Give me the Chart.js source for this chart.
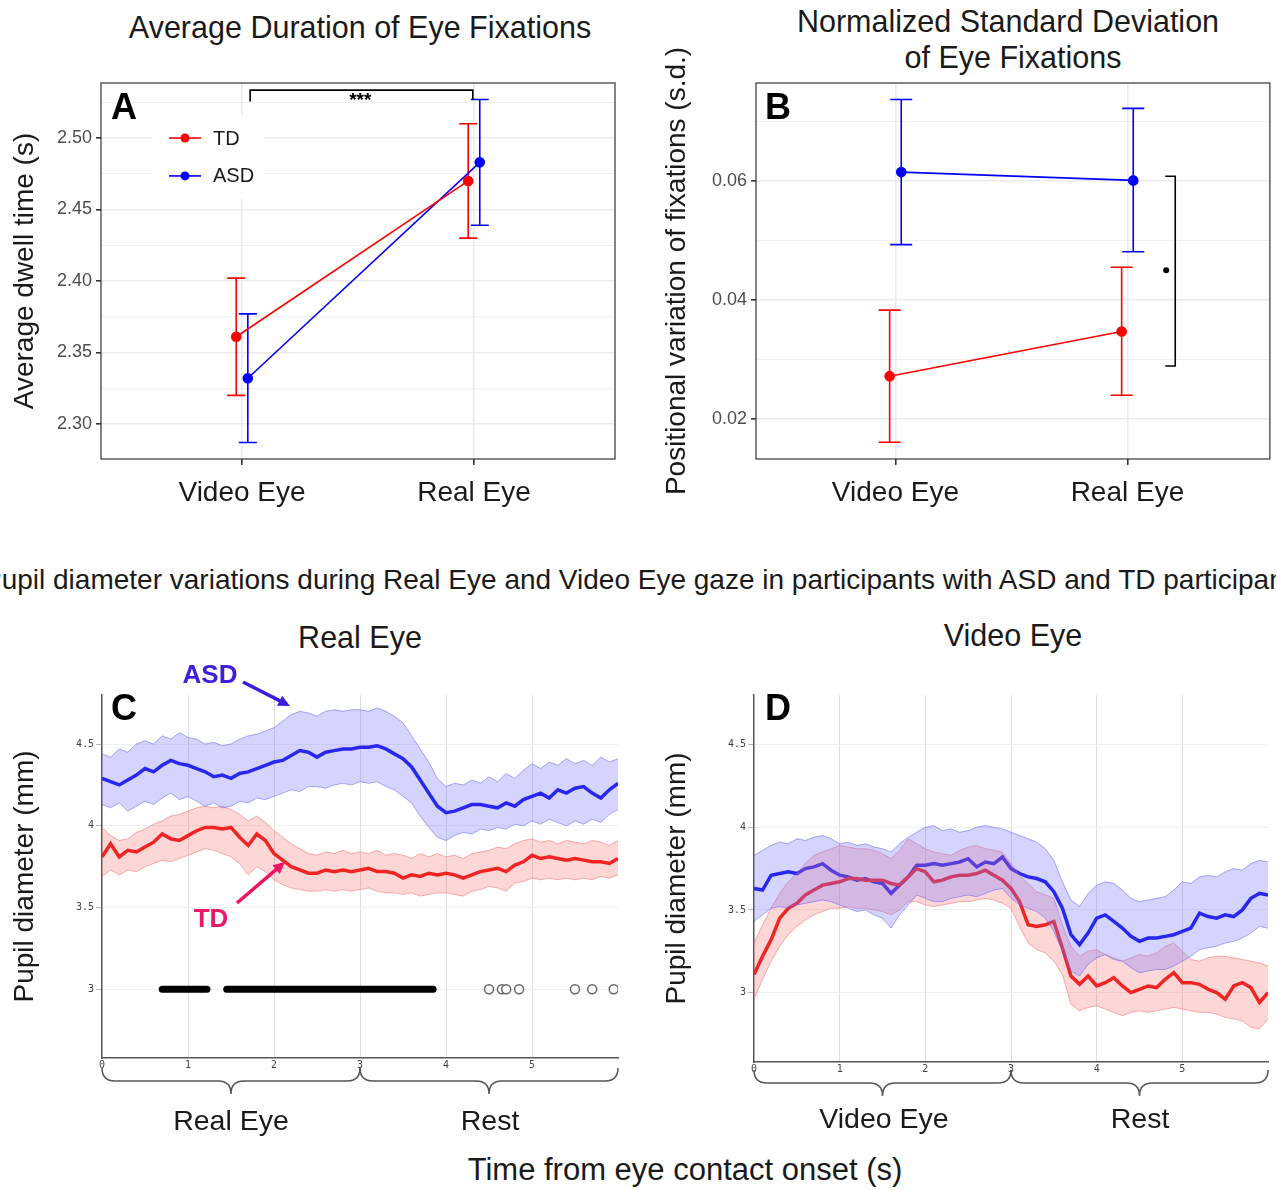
<!DOCTYPE html>
<html>
<head>
<meta charset="utf-8">
<script src="https://cdn.jsdelivr.net/npm/chart.js@4.4.0/dist/chart.umd.min.js"></script>
<style>
body { margin:0; background:#fff; width:1276px; height:1190px; overflow:hidden; position:relative;
       font-family:"Liberation Sans", Arial, sans-serif; }
canvas { position:absolute; }
.t { position:absolute; white-space:nowrap; color:#1a1a1a; transform:translate(-50%,-50%); font-size:30.5px; }
.lab { position:absolute; font-weight:bold; font-size:36px; color:#000; transform:translate(-50%,-50%); }
</style>
</head>
<body>

<div class="t" style="left:360px;top:27px">Average Duration of Eye Fixations</div>
<div class="t" style="left:1008px;top:21px">Normalized Standard Deviation</div>
<div class="t" style="left:1013px;top:57px">of Eye Fixations</div>
<div class="t" style="left:-17px;top:580px;transform:translate(0,-50%);font-size:28px">Pupil diameter variations during Real Eye and Video Eye gaze in participants with ASD and TD participants</div>
<div class="t" style="left:360px;top:637px">Real Eye</div>
<div class="t" style="left:1013px;top:635px">Video Eye</div>

<canvas id="chartA" width="640" height="530" style="left:0;top:0"></canvas>
<canvas id="chartB" width="636" height="530" style="left:640px;top:0"></canvas>
<canvas id="chartC" width="640" height="510" style="left:0;top:600px"></canvas>
<canvas id="chartD" width="636" height="510" style="left:640px;top:600px"></canvas>

<div class="lab" style="left:124px;top:107px">A</div>
<div class="lab" style="left:778px;top:107px">B</div>
<div class="lab" style="left:124px;top:708px">C</div>
<div class="lab" style="left:778px;top:708px">D</div>

<div class="t" style="left:210px;top:674px;font-weight:bold;font-size:26px;color:#3b1ee0">ASD</div>
<div class="t" style="left:211px;top:918px;font-weight:bold;font-size:26px;color:#e8186a">TD</div>

<div class="t" style="left:231px;top:1120px;font-size:28.5px">Real Eye</div>
<div class="t" style="left:490px;top:1120px;font-size:28.5px">Rest</div>
<div class="t" style="left:884px;top:1118px;font-size:28.5px">Video Eye</div>
<div class="t" style="left:1140px;top:1118px;font-size:28.5px">Rest</div>
<div class="t" style="left:685px;top:1170px;font-size:31px">Time from eye contact onset (s)</div>

<script>
// ---- data: panels A and B (order: Video Eye, Real Eye) ----
const groups = ['Video Eye', 'Real Eye'];

const dwellTD    = [2.361, 2.470];
const dwellTDlo  = [2.320, 2.430];
const dwellTDhi  = [2.402, 2.510];
const dwellASD   = [2.332, 2.483];
const dwellASDlo = [2.287, 2.439];
const dwellASDhi = [2.377, 2.527];

const sdTD    = [0.0272, 0.0347];
const sdTDlo  = [0.0161, 0.0240];
const sdTDhi  = [0.0383, 0.0455];
const sdASD   = [0.0615, 0.0601];
const sdASDlo = [0.0493, 0.0481];
const sdASDhi = [0.0737, 0.0722];

const ticksA = [2.30, 2.35, 2.40, 2.45, 2.50];
const minorA = [2.325, 2.375, 2.425, 2.475, 2.525];
const ticksB = [0.02, 0.04, 0.06];
const minorB = [0.03, 0.05, 0.07];

// ---- data: panels C and D (pupil diameter, mm) ----
const time = [0,0.1,0.2,0.3,0.4,0.5,0.6,0.7,0.8,0.9,1,1.1,1.2,1.3,1.4,1.5,1.6,1.7,1.8,1.9,2,2.1,2.2,2.3,2.4,2.5,2.6,2.7,2.8,2.9,
  3,3.1,3.2,3.3,3.4,3.5,3.6,3.7,3.8,3.9,4,4.1,4.2,4.3,4.4,4.5,4.6,4.7,4.8,4.9,5,5.1,5.2,5.3,5.4,5.5,5.6,5.7,5.8,5.9,6];
const pupilTicks = [3, 3.5, 4, 4.5];
const timeTicks = [0, 1, 2, 3, 4, 5];

// C: Real Eye
const realASD   = [4.29,4.27,4.25,4.28,4.31,4.35,4.33,4.37,4.40,4.38,4.37,4.35,4.33,4.30,4.31,4.29,4.32,4.33,4.35,4.37,4.39,4.40,4.43,4.46,4.45,4.42,4.45,4.46,4.47,4.47,
  4.48,4.48,4.49,4.47,4.44,4.41,4.36,4.28,4.20,4.12,4.08,4.09,4.11,4.13,4.13,4.12,4.11,4.14,4.12,4.16,4.18,4.20,4.17,4.22,4.20,4.23,4.24,4.20,4.17,4.22,4.26];
const realASDhi = [4.44,4.42,4.47,4.45,4.50,4.52,4.50,4.55,4.53,4.57,4.54,4.53,4.50,4.51,4.49,4.50,4.53,4.55,4.56,4.58,4.60,4.64,4.68,4.70,4.69,4.67,4.70,4.71,4.70,4.71,
  4.71,4.70,4.72,4.70,4.67,4.63,4.55,4.47,4.39,4.29,4.24,4.26,4.25,4.28,4.26,4.30,4.27,4.32,4.29,4.34,4.38,4.35,4.39,4.37,4.41,4.38,4.40,4.37,4.42,4.39,4.41];
const realASDlo = [4.13,4.11,4.14,4.09,4.12,4.15,4.13,4.17,4.20,4.16,4.18,4.15,4.12,4.14,4.11,4.12,4.15,4.14,4.17,4.16,4.18,4.20,4.22,4.21,4.24,4.24,4.23,4.25,4.26,4.25,
  4.27,4.26,4.27,4.24,4.22,4.18,4.14,4.06,3.99,3.93,3.91,3.94,3.96,3.95,3.98,3.97,3.99,3.98,4.01,4.00,4.03,4.01,4.04,4.02,4.00,4.03,4.01,4.04,4.02,4.07,4.10];
const realTD    = [3.81,3.89,3.81,3.85,3.84,3.87,3.90,3.95,3.92,3.91,3.94,3.97,3.99,3.99,3.98,3.99,3.93,3.88,3.95,3.91,3.83,3.79,3.75,3.73,3.71,3.71,3.73,3.72,3.73,3.72,
  3.73,3.74,3.72,3.72,3.71,3.68,3.70,3.69,3.71,3.70,3.71,3.70,3.68,3.70,3.72,3.73,3.74,3.72,3.76,3.78,3.82,3.80,3.81,3.80,3.79,3.80,3.79,3.78,3.78,3.77,3.80];
const realTDhi  = [3.99,3.94,3.91,3.92,3.96,3.98,4.01,4.03,4.06,4.07,4.09,4.11,4.12,4.11,4.12,4.10,4.07,4.03,4.06,4.02,3.97,3.93,3.89,3.86,3.83,3.82,3.84,3.83,3.85,3.83,
  3.84,3.83,3.85,3.82,3.83,3.82,3.80,3.83,3.81,3.83,3.81,3.82,3.80,3.83,3.84,3.85,3.87,3.86,3.89,3.91,3.92,3.90,3.91,3.89,3.91,3.90,3.89,3.91,3.90,3.88,3.91];
const realTDlo  = [3.69,3.73,3.70,3.73,3.72,3.75,3.77,3.79,3.78,3.80,3.82,3.84,3.86,3.85,3.83,3.81,3.77,3.70,3.75,3.72,3.67,3.64,3.62,3.61,3.60,3.60,3.61,3.60,3.61,3.60,
  3.61,3.62,3.60,3.59,3.59,3.58,3.59,3.57,3.58,3.59,3.59,3.58,3.57,3.60,3.61,3.63,3.62,3.60,3.65,3.66,3.68,3.67,3.68,3.67,3.68,3.67,3.68,3.67,3.69,3.68,3.70];

// significance marks along y = 3 in panel C
const sigRuns = [[0.70, 1.22], [1.45, 3.85]];
const sigDots = [4.50, 4.65, 4.70, 4.85, 5.50, 5.70, 5.95];

// D: Video Eye
const videoASD   = [3.63,3.62,3.71,3.72,3.73,3.72,3.75,3.76,3.78,3.74,3.71,3.70,3.68,3.69,3.67,3.66,3.60,3.65,3.70,3.77,3.77,3.78,3.77,3.78,3.79,3.81,3.76,3.79,3.78,3.82,
  3.75,3.72,3.70,3.69,3.67,3.61,3.51,3.35,3.29,3.36,3.45,3.47,3.43,3.39,3.34,3.31,3.33,3.33,3.34,3.35,3.37,3.39,3.48,3.46,3.45,3.47,3.46,3.50,3.57,3.60,3.59];
const videoASDhi = [3.83,3.86,3.89,3.91,3.90,3.93,3.92,3.94,3.95,3.93,3.90,3.91,3.89,3.90,3.88,3.87,3.85,3.90,3.94,3.97,4.00,4.01,3.98,3.99,3.97,3.98,4.00,4.01,4.00,3.99,
  3.97,3.95,3.93,3.91,3.87,3.80,3.67,3.56,3.52,3.60,3.65,3.67,3.66,3.62,3.57,3.55,3.56,3.57,3.58,3.62,3.67,3.66,3.70,3.71,3.70,3.73,3.75,3.74,3.78,3.80,3.79];
const videoASDlo = [3.43,3.47,3.51,3.52,3.51,3.53,3.54,3.55,3.56,3.55,3.53,3.51,3.49,3.50,3.47,3.45,3.39,3.47,3.53,3.59,3.57,3.55,3.55,3.57,3.58,3.59,3.58,3.60,3.62,3.63,
  3.57,3.53,3.51,3.49,3.45,3.37,3.25,3.13,3.10,3.17,3.21,3.23,3.20,3.19,3.15,3.12,3.13,3.14,3.14,3.16,3.19,3.22,3.26,3.27,3.28,3.30,3.31,3.33,3.36,3.40,3.39];
const videoTD    = [3.11,3.22,3.32,3.45,3.51,3.54,3.59,3.62,3.65,3.66,3.67,3.69,3.69,3.68,3.68,3.68,3.66,3.65,3.70,3.75,3.73,3.67,3.68,3.70,3.71,3.71,3.72,3.74,3.71,3.68,
  3.63,3.55,3.41,3.40,3.41,3.43,3.27,3.10,3.05,3.10,3.04,3.06,3.09,3.04,3.00,3.02,3.04,3.03,3.08,3.12,3.06,3.06,3.05,3.02,3.00,2.96,3.04,3.06,3.03,2.94,3.00];
const videoTDhi  = [3.30,3.41,3.51,3.60,3.67,3.72,3.78,3.83,3.85,3.87,3.89,3.88,3.87,3.87,3.86,3.84,3.81,3.86,3.93,3.90,3.87,3.85,3.84,3.83,3.86,3.88,3.89,3.87,3.86,3.85,
  3.78,3.71,3.66,3.61,3.59,3.57,3.41,3.28,3.22,3.25,3.26,3.23,3.21,3.19,3.21,3.23,3.22,3.24,3.28,3.30,3.25,3.20,3.19,3.21,3.22,3.22,3.21,3.20,3.19,3.18,3.16];
const videoTDlo  = [2.96,3.08,3.19,3.28,3.35,3.40,3.44,3.47,3.49,3.51,3.51,3.52,3.51,3.51,3.50,3.49,3.47,3.50,3.55,3.55,3.53,3.52,3.53,3.54,3.55,3.55,3.56,3.57,3.56,3.54,
  3.51,3.40,3.30,3.26,3.24,3.19,3.11,2.93,2.89,2.91,2.92,2.90,2.88,2.86,2.88,2.89,2.88,2.89,2.90,2.91,2.90,2.89,2.88,2.88,2.87,2.85,2.84,2.83,2.79,2.78,2.84];

const FONT = '"Liberation Sans", Arial, sans-serif';
const RED = '#ff0000', BLUE = '#0000ff';

function pts(xs, ys, dx) {
    return ys.map((y, i) => ({x: xs[i] + (dx || 0), y: y}));
}

// ******panel A and B: means with error bars******
function meanChart(id, cfg) {
    const major = cfg.major, minor = cfg.minor;
    const dodge = 0.025;
    const bars = [
        {m: cfg.td, lo: cfg.tdLo, hi: cfg.tdHi, dx: -dodge, color: RED},
        {m: cfg.asd, lo: cfg.asdLo, hi: cfg.asdHi, dx: dodge, color: BLUE}
    ];
    const deco = {
        id: 'deco' + id,
        beforeDatasetsDraw(c) {
            const g = c.ctx, xs = c.scales.x, ys = c.scales.y;
            g.save();
            g.lineWidth = 1.6;
            bars.forEach(b => {
                g.strokeStyle = b.color;
                b.m.forEach((v, i) => {
                    const px = xs.getPixelForValue(i + b.dx);
                    const top = ys.getPixelForValue(b.hi[i]), bot = ys.getPixelForValue(b.lo[i]);
                    g.beginPath();
                    g.moveTo(px, top); g.lineTo(px, bot);
                    g.moveTo(px - cfg.cap, top); g.lineTo(px + cfg.cap, top);
                    g.moveTo(px - cfg.cap, bot); g.lineTo(px + cfg.cap, bot);
                    g.stroke();
                });
            });
            g.restore();
        },
        afterDraw(c) {
            const g = c.ctx, a = c.chartArea;
            g.save();
            g.strokeStyle = '#333'; g.lineWidth = 1.2;
            g.strokeRect(a.left, a.top, a.right - a.left, a.bottom - a.top);
            if (cfg.extra) cfg.extra(c, g);
            g.restore();
        }
    };
    return new Chart(document.getElementById(id), {
        type: 'line',
        data: {
            datasets: [
                {label: 'TD', data: pts([0, 1], cfg.td, -dodge), borderColor: RED, backgroundColor: RED,
                 borderWidth: 1.6, pointRadius: 4.5, pointHoverRadius: 4.5},
                {label: 'ASD', data: pts([0, 1], cfg.asd, dodge), borderColor: BLUE, backgroundColor: BLUE,
                 borderWidth: 1.6, pointRadius: 4.5, pointHoverRadius: 4.5}
            ]
        },
        options: {
            responsive: false, animation: false,
            layout: {padding: {top: 83, right: cfg.padRight, left: 0, bottom: 0}},
            plugins: {legend: {display: false}, tooltip: {enabled: false}},
            scales: {
                x: {
                    type: 'linear', min: cfg.xMin, max: cfg.xMax,
                    afterBuildTicks: s => { s.ticks = [{value: 0}, {value: 1}]; },
                    afterFit: s => { s.height = 71; },
                    ticks: {callback: v => groups[v], font: {family: FONT, size: 28}, color: '#1a1a1a', padding: 11},
                    grid: {color: '#ebebeb', lineWidth: 1.6, tickColor: '#333', tickLength: 6},
                    border: {display: false}
                },
                y: {
                    min: cfg.yMin, max: cfg.yMax,
                    afterBuildTicks: s => { s.ticks = major.concat(minor).sort((p, q) => p - q).map(v => ({value: v})); },
                    afterFit: s => { s.width = cfg.yWidth; },
                    ticks: {callback: v => major.includes(v) ? v.toFixed(2) : '',
                            font: {family: '"Liberation Sans Narrow", ' + FONT, size: 18}, color: '#4d4d4d', padding: 4},
                    grid: {color: '#ebebeb', lineWidth: c => major.includes(c.tick.value) ? 1.6 : 0.8,
                           tickColor: c => major.includes(c.tick.value) ? '#333' : 'rgba(0,0,0,0)', tickLength: 5},
                    border: {display: false},
                    title: {display: true, text: cfg.yTitle, font: {family: FONT, size: 28}, color: '#1a1a1a',
                            padding: {top: cfg.titlePad, bottom: 0}}
                }
            }
        },
        plugins: [deco]
    });
}

meanChart('chartA', {
    td: dwellTD, tdLo: dwellTDlo, tdHi: dwellTDhi, asd: dwellASD, asdLo: dwellASDlo, asdHi: dwellASDhi,
    major: ticksA, minor: minorA, yMin: 2.2755, yMax: 2.5385, xMin: -0.608, xMax: 1.608,
    yWidth: 101, padRight: 25, titlePad: 8.2, cap: 9, yTitle: 'Average dwell time (s)',
    extra: (c, g) => {
        const xs = c.scales.x, ys = c.scales.y;
        // significance bracket
        const x1 = xs.getPixelForValue(0.035), x2 = xs.getPixelForValue(0.995);
        const yt = ys.getPixelForValue(2.5335), yb1 = ys.getPixelForValue(2.5255), yb2 = ys.getPixelForValue(2.527);
        g.strokeStyle = '#000'; g.lineWidth = 1.6;
        g.beginPath(); g.moveTo(x1, yb1); g.lineTo(x1, yt); g.lineTo(x2, yt); g.lineTo(x2, yb2); g.stroke();
        g.fillStyle = '#000'; g.font = 'bold 19px ' + FONT; g.textAlign = 'center'; g.textBaseline = 'middle';
        g.fillText('***', xs.getPixelForValue(0.51), ys.getPixelForValue(2.5262));
        // legend
        const items = [['TD', RED, 2.500], ['ASD', BLUE, 2.4735]];
        g.fillStyle = '#fff';
        g.fillRect(152, ys.getPixelForValue(2.516), 112, ys.getPixelForValue(2.458) - ys.getPixelForValue(2.516));
        items.forEach(it => {
            const y = ys.getPixelForValue(it[2]);
            g.strokeStyle = it[1]; g.lineWidth = 1.6;
            g.beginPath(); g.moveTo(169, y); g.lineTo(201, y); g.stroke();
            g.fillStyle = it[1]; g.beginPath(); g.arc(185, y, 4.5, 0, Math.PI * 2); g.fill();
            g.fillStyle = '#1a1a1a'; g.font = '20px ' + FONT; g.textAlign = 'left';
            g.fillText(it[0], 213, y + 1);
        });
    }
});

meanChart('chartB', {
    td: sdTD, tdLo: sdTDlo, tdHi: sdTDhi, asd: sdASD, asdLo: sdASDlo, asdHi: sdASDhi,
    major: ticksB, minor: minorB, yMin: 0.01328, yMax: 0.07647, xMin: -0.601, xMax: 1.614,
    yWidth: 116, padRight: 4, titlePad: 20.2, cap: 11, yTitle: 'Positional variation of fixations (s.d.)',
    extra: (c, g) => {
        const xs = c.scales.x, ys = c.scales.y;
        const xv = xs.getPixelForValue(1.206), xt = xs.getPixelForValue(1.163);
        const y1 = ys.getPixelForValue(0.0608), y2 = ys.getPixelForValue(0.0289);
        g.strokeStyle = '#000'; g.lineWidth = 1.6;
        g.beginPath(); g.moveTo(xt, y1); g.lineTo(xv, y1); g.lineTo(xv, y2); g.lineTo(xt, y2); g.stroke();
        g.fillStyle = '#000'; g.beginPath();
        g.arc(xs.getPixelForValue(1.167), ys.getPixelForValue(0.0450), 3, 0, Math.PI * 2); g.fill();
    }
});

// ******panel C and D: pupil traces with bands******
function brace(g, x1, x2, y, h) {
    const xm = (x1 + x2) / 2, r = h / 2;
    g.beginPath();
    g.moveTo(x1, y);
    g.quadraticCurveTo(x1, y + r, x1 + r, y + r);
    g.lineTo(xm - r, y + r);
    g.quadraticCurveTo(xm, y + r, xm, y + h);
    g.quadraticCurveTo(xm, y + r, xm + r, y + r);
    g.lineTo(x2 - r, y + r);
    g.quadraticCurveTo(x2, y + r, x2, y);
    g.stroke();
}

function arrow(g, x1, y1, x2, y2, color) {
    const ang = Math.atan2(y2 - y1, x2 - x1), L = 13;
    g.strokeStyle = color; g.fillStyle = color; g.lineWidth = 3.5;
    g.beginPath(); g.moveTo(x1, y1); g.lineTo(x2 - Math.cos(ang) * 8, y2 - Math.sin(ang) * 8); g.stroke();
    g.beginPath(); g.moveTo(x2, y2);
    g.lineTo(x2 - L * Math.cos(ang - 0.45), y2 - L * Math.sin(ang - 0.45));
    g.lineTo(x2 - L * Math.cos(ang + 0.45), y2 - L * Math.sin(ang + 0.45));
    g.closePath(); g.fill();
}

function pupilChart(id, cfg) {
    const datasets = [
        {data: pts(time, cfg.asdHi), borderColor: 'rgba(80,80,240,0.6)', borderWidth: 0.8,
         backgroundColor: 'rgba(120,120,255,0.32)', fill: '+1'},
        {data: pts(time, cfg.asdLo), borderColor: 'rgba(80,80,240,0.6)', borderWidth: 0.8, fill: false},
        {data: pts(time, cfg.tdHi), borderColor: 'rgba(240,90,90,0.6)', borderWidth: 0.8,
         backgroundColor: 'rgba(250,120,120,0.30)', fill: '+1'},
        {data: pts(time, cfg.tdLo), borderColor: 'rgba(240,90,90,0.6)', borderWidth: 0.8, fill: false},
        {data: pts(time, cfg.td), borderColor: '#ee0000', borderWidth: 3.5, fill: false},
        {data: pts(time, cfg.asd), borderColor: '#0000e6', borderWidth: 3.5, fill: false}
    ];
    if (cfg.sig) {
        sigRuns.forEach(r => datasets.push({data: [{x: r[0], y: 3}, {x: r[1], y: 3}], borderColor: '#000',
            borderWidth: 7, borderCapStyle: 'round', fill: false}));
        datasets.push({data: sigDots.map(x => ({x: x, y: 3})), showLine: false, pointRadius: 4.5,
            pointBorderColor: '#666', pointBackgroundColor: '#fff', pointBorderWidth: 1.5});
    }
    datasets.forEach(d => { if (d.pointRadius === undefined) d.pointRadius = 0; d.tension = 0; });

    const deco = {
        id: 'deco' + id,
        afterDraw(c) {
            const g = c.ctx, xs = c.scales.x, a = c.chartArea;
            g.save();
            g.strokeStyle = '#555'; g.lineWidth = 1.5;
            brace(g, xs.getPixelForValue(0), xs.getPixelForValue(3), a.bottom + cfg.braceTop, 26);
            brace(g, xs.getPixelForValue(3), xs.getPixelForValue(6), a.bottom + cfg.braceTop, 26);
            if (cfg.sig) {
                arrow(g, 243, 82, 290, 106, '#3b1ee0');
                arrow(g, 237, 303, 285, 262, '#ee1463');
            }
            g.restore();
        }
    };

    return new Chart(document.getElementById(id), {
        type: 'line',
        data: {datasets: datasets},
        options: {
            responsive: false, animation: false,
            layout: {padding: {top: cfg.padTop, right: cfg.padRight, left: 0, bottom: 0}},
            plugins: {legend: {display: false}, tooltip: {enabled: false}},
            scales: {
                x: {
                    type: 'linear', min: 0, max: 6,
                    afterBuildTicks: s => { s.ticks = timeTicks.concat([6]).map(v => ({value: v})); },
                    afterFit: s => { s.height = cfg.xHeight; },
                    ticks: {callback: v => v < 6 ? String(v) : '', font: {family: '"DejaVu Sans Mono", monospace', size: 10},
                            color: '#444', padding: 1, maxRotation: 0},
                    grid: {color: c => (c.tick.value > 0 && c.tick.value < 6) ? '#dedede' : 'rgba(0,0,0,0)',
                           lineWidth: 1, drawTicks: false},
                    border: {display: true, color: '#555', width: 1.5}
                },
                y: {
                    min: 2.58, max: 4.80,
                    afterBuildTicks: s => { s.ticks = pupilTicks.map(v => ({value: v})); },
                    afterFit: s => { s.width = cfg.yWidth; },
                    ticks: {callback: v => String(v), font: {family: '"DejaVu Sans Mono", monospace', size: 10},
                            color: '#444', padding: 2},
                    grid: {color: '#efefef', lineWidth: 1, tickColor: '#bbb', tickLength: 6},
                    border: {display: true, color: '#555', width: 1.5},
                    title: {display: true, text: 'Pupil diameter (mm)', font: {family: FONT, size: 28}, color: '#1a1a1a',
                            padding: {top: cfg.titlePad, bottom: 0}}
                }
            }
        },
        plugins: [deco]
    });
}

pupilChart('chartC', {
    asd: realASD, asdHi: realASDhi, asdLo: realASDlo, td: realTD, tdHi: realTDhi, tdLo: realTDlo,
    sig: true, padTop: 95, padRight: 22, xHeight: 52, yWidth: 102, titlePad: 8.2, braceTop: 10
});

pupilChart('chartD', {
    asd: videoASD, asdHi: videoASDhi, asdLo: videoASDlo, td: videoTD, tdHi: videoTDhi, tdLo: videoTDlo,
    sig: false, padTop: 95, padRight: 8, xHeight: 48, yWidth: 114, titlePad: 20.2, braceTop: 8
});
</script>
</body>
</html>
